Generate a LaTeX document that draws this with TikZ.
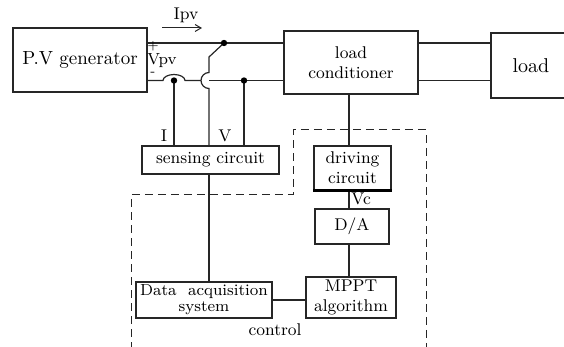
\documentclass[tikz,border=0pt]{standalone}
\usepackage{tikz}
\usetikzlibrary{arrows.meta, positioning, calc}
\tikzset{
    font=\fontsize{8.5}{10}\selectfont,
    %
    % 方框样式
    blk/.style={
        rectangle, draw=black!85, line width=0.6pt,
        inner sep=1pt, align=center
    },
    %
    % 连线样式
    wire/.style={draw=black!85, line width=0.6pt},
    jdot/.style={circle, fill=black, inner sep=0pt, minimum size=3.2pt},
    lbl/.style={inner sep=0pt},
    sign/.style={inner sep=0pt, font=\fontsize{6.5}{7}\selectfont},
    %
    % 控制部分虚线框
    ctrlBorder/.style={draw=black!85, line width=0.5pt, dash pattern=on 4pt off 2.5pt}
}

\begin{document}
\begin{tikzpicture}[x=0.5pt, y=-0.5pt]

	\clip (0,0) rectangle (564,347);

	%% 方框
	\node (pv) [blk, minimum width=67pt, minimum height=32pt, font=\fontsize{9.5}{11}\selectfont] at (80,60) {P.V generator};
	\node (cond) [blk, minimum width=67pt, minimum height=31.5pt] at (351,62.5) {load\\conditioner};
	\node (load) [blk, minimum width=40pt, minimum height=32.5pt, font=\fontsize{10}{12}\selectfont] at (531,65.5) {load};
	\node (sense) [blk, minimum width=68.5pt, minimum height=14pt] at (210.5,160) {sensing circuit};
	\node (drive) [blk, minimum width=38.5pt, minimum height=22pt] at (352.5,168) {driving\\circuit};
	\node (da) [blk, minimum width=37pt, minimum height=17.5pt] at (352,226.5) {D/A};
	\node (mppt) [blk, minimum width=45pt, minimum height=20.5pt] at (351,297.5) {MPPT\\algorithm};
	\node (daq) [blk, minimum width=68pt, minimum height=18pt, font=\fontsize{8}{9.5}\selectfont] at (204,300) {Data\ \ acquisition\\[-1.5pt]system};

	%% 节点坐标
	\coordinate (jtop) at (224,43);   % 上母线分支点
	\coordinate (bend) at (209,57);
	\coordinate (hopT) at (209,72.5); % 跨线上端
	\coordinate (hopB) at (209,88.5); % 跨线下端
	\coordinate (hopL) at (201,80.5);
	\coordinate (jI) at (174,80.5);   % 电流采样点
	\coordinate (jV) at (244,80.5);   % 电压采样点
	\coordinate (col) at (349,0);     % 右侧竖线

	%% 母线
	\draw[wire] (pv.east |- jtop) -- (jtop) -- (cond.west |- jtop);
	\draw[wire] (cond.east |- jtop) -- (load.west |- jtop);
	\draw[wire] (pv.east |- jI) -- ($(jI)+(-11,0)$) arc[start angle=180, end angle=0, x radius=5.5pt, y radius=3pt] -- (hopL);
	\draw[wire] (hopT |- jV) -- (cond.west |- jV);
	\draw[wire] (cond.east |- jV) -- (load.west |- jV);

	%% 采样线
	\draw[wire] (jtop) -- (bend) -- (hopT) arc[start angle=90, end angle=270, radius=4pt] -- (hopB |- sense.north);
	\draw[wire] (jI) -- (jI |- sense.north);
	\draw[wire] (jV) -- (jV |- sense.north);
	\node (dTop) [jdot] at (jtop) {};
	\node (dI) [jdot] at (jI) {};
	\node (dV) [jdot] at (jV) {};

	%% 控制通路
	\draw[wire] (hopB |- sense.south) -- (hopB |- daq.north);
	\draw[wire] (col |- cond.south) -- (col |- drive.north);
	\draw[wire] (col |- drive.south) -- (col |- da.north);
	\draw[wire] (col |- da.south) -- (col |- mppt.north);
	\draw[wire] (daq.east) -- (daq.east -| mppt.west);
	\draw[line width=1.3pt] (drive.south west) -- (drive.south east);

	%% 标注
	\node (ipv) [lbl] at (186,15) {Ipv};
	\coordinate (ipvA) at (162,28);
	\coordinate (ipvB) at (202,28);
	\draw[wire, line width=0.5pt, -{Straight Barb[length=3pt, width=3.5pt]}] (ipvA) -- (ipvB);
	\node (plus) [sign] at (153,46) {+};
	\node (vpv) [lbl, font=\fontsize{8}{9}\selectfont] at (162,61) {Vpv};
	\node (minus) [sign] at (153,74) {-};
	\node (lblI) [lbl] at (164,136) {I};
	\node (lblV) [lbl] at (225,136) {V};
	\node (vc) [lbl, anchor=west] at (351,199) {Vc};
	\node (ctrl) [lbl] at (275,330) {control};

	%% 虚线框
	\draw[ctrlBorder] (131,350) -- (131,195) -- (293,195) -- (293,130) -- (426,130) -- (426,350);

\end{tikzpicture}
\end{document}
